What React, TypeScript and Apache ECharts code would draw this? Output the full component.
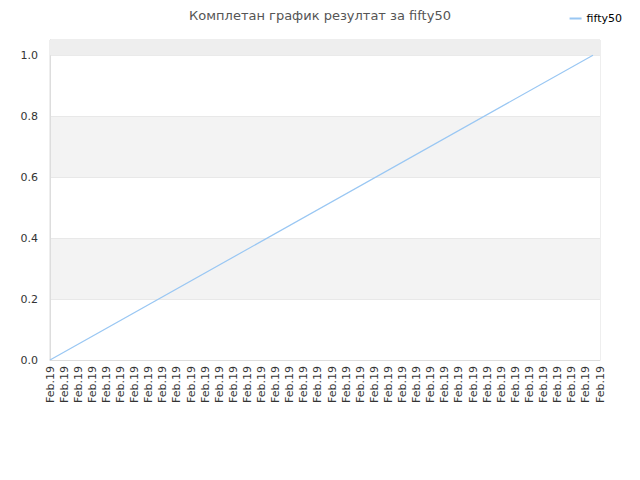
import React, { useEffect, useRef } from "react";
import * as echarts from "echarts";

const title = "Комплетан график резултат за fifty50";
const seriesName = "fifty50";
// x categories (half-steps between the dated labels)
const categories: string[] = Array.from({ length: 79 }, () => "Feb.19");
// series points: [category index, value]
const startIndex = 0;
const endIndex = 77;
const startValue = 0;
const endValue = 1;
const yTicks = [0, 0.2, 0.4, 0.6, 0.8, 1.0];

export default function App() {
  const ref = useRef<HTMLDivElement>(null);
  useEffect(() => {
    if (!ref.current) return;
    const chart = echarts.init(ref.current, undefined, { renderer: "svg" });
    chart.setOption({
      animation: false,
      backgroundColor: "#ffffff",
      title: {
        text: title,
        left: "center",
        top: 4,
        textStyle: {
          fontFamily: "DejaVu Sans",
          fontSize: 13,
          fontWeight: "normal",
          color: "#555555",
        },
      },
      legend: {
        right: 13,
        top: 8,
        itemWidth: 12,
        itemHeight: 2,
        itemGap: 8,
        icon: "rect",
        textStyle: { fontFamily: "DejaVu Sans", fontSize: 11, color: "#000000" },
        data: [seriesName],
      },
      grid: {
        left: 50,
        right: 40,
        top: 40,
        bottom: 120,
        show: true,
        borderColor: "#dddddd",
        borderWidth: 1,
        backgroundColor: "transparent",
      },
      xAxis: {
        type: "category",
        boundaryGap: false,
        data: categories,
        axisLine: { show: true, lineStyle: { color: "#dddddd" } },
        axisTick: { show: false },
        axisLabel: {
          interval: 1,
          rotate: 90,
          margin: 6,
          fontFamily: "DejaVu Sans",
          fontSize: 11,
          color: "#333333",
        },
        splitLine: { show: false },
      },
      yAxis: {
        type: "value",
        min: 0,
        max: 1.05,
        interval: 0.2,
        axisLine: { show: true, lineStyle: { color: "#dddddd" } },
        axisTick: { show: false },
        axisLabel: {
          margin: 12,
          fontFamily: "DejaVu Sans",
          fontSize: 11,
          color: "#333333",
          formatter: (v: number) => (yTicks.some((t) => Math.abs(t - v) < 1e-9) ? v.toFixed(1) : ""),
        },
        splitLine: { show: true, lineStyle: { color: "#e8e8e8" } },
        splitArea: { show: true, areaStyle: { color: ["#ffffff", "#f3f3f3"] } },
      },
      series: [
        {
          name: seriesName,
          type: "line",
          data: [
            [startIndex, startValue],
            [endIndex, endValue],
          ],
          showSymbol: false,
          symbol: "none",
          lineStyle: { color: "#99c7f3", width: 1.2 },
          itemStyle: { color: "#99c7f3" },
          markArea: {
            silent: true,
            itemStyle: { color: "#eeeeee" },
            data: [[{ yAxis: 1.0 }, { yAxis: 1.05 }]],
          },
        },
      ],
    });
    return () => chart.dispose();
  }, []);
  return <div ref={ref} style={{ width: 640, height: 480, margin: -8 }} />;
}
